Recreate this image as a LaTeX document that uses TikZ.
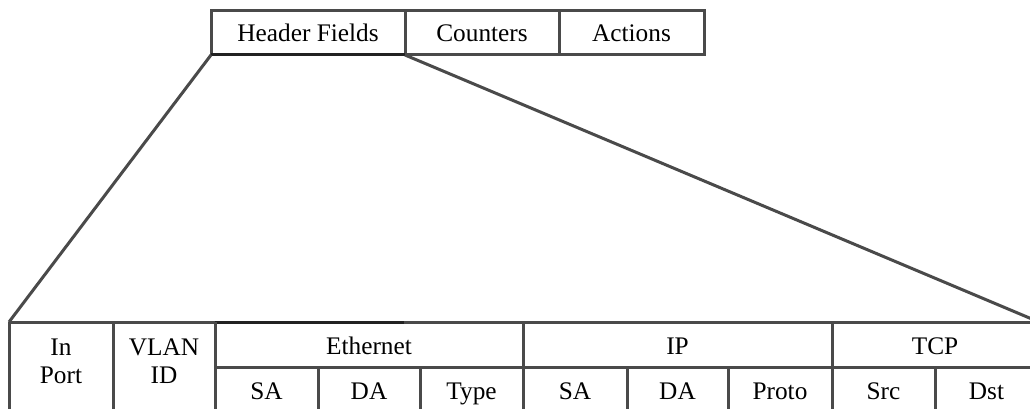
\documentclass[tikz,border=0pt]{standalone}
\usepackage{fontspec}
\setmainfont{Liberation Serif}
\definecolor{rule}{HTML}{4A4A4A}
\definecolor{ruledark}{HTML}{222222}
\begin{document}
\begin{tikzpicture}[x=1pt,y=-1pt,
  every node/.style={font=\fontsize{25.3}{28}\selectfont, inner sep=0pt, outer sep=0pt},
  rulebox/.style={draw=rule, line width=3pt, anchor=north west},
  gridline/.style={draw=rule, line width=3pt},
  label/.style={anchor=base, align=center}]
\useasboundingbox (0,0) rectangle (1030,409);
\clip (0,0) rectangle (1030,409);

% flow entry
\node[rulebox, minimum width=194pt, minimum height=44pt] (hf) at (211,11) {Header Fields};
\node[rulebox, minimum width=154pt, minimum height=44pt] (cnt) at (hf.north east) {Counters};
\node[rulebox, minimum width=145pt, minimum height=44pt] (act) at (cnt.north east) {Actions};
\draw[draw=ruledark, line width=3pt] (hf.south west) -- (hf.south east);

% header field table corners
\coordinate (tl) at (9,322);
\coordinate (tr) at (1039,322);

% zoom lines
\draw[gridline] (hf.south west) -- (tl);
\draw[gridline] (hf.south east) -- (tr);

% table rules
\draw[gridline] (tl) -- (tr);
\draw[gridline] (215,367) -- (1045,367);
\draw[draw=ruledark, line width=3pt] (215,322) -- (404,322);
\foreach \x in {9,113,215,523,832} \draw[gridline] (\x,322) -- (\x,420);
\foreach \x in {318,420,627,728,935} \draw[gridline] (\x,367) -- (\x,420);

% field names (base anchor sits on the last line)
\node[label] (inport) at (61,383) {In\\Port};
\node[label] (vlan) at (164,383) {VLAN\\ID};
\node[label] (eth) at (369,354) {Ethernet};
\node[label] (ip) at (677.5,354) {IP};
\node[label] (tcp) at (935,354) {TCP};
\node[label] (esa) at (266.5,399) {SA};
\node[label] (eda) at (369,399) {DA};
\node[label] (etype) at (471.5,399) {Type};
\node[label] (isa) at (575,399) {SA};
\node[label] (ida) at (677.5,399) {DA};
\node[label] (iproto) at (780,399) {Proto};
\node[label] (tsrc) at (883.5,399) {Src};
\node[label] (tdst) at (986.5,399) {Dst};
\end{tikzpicture}
\end{document}
